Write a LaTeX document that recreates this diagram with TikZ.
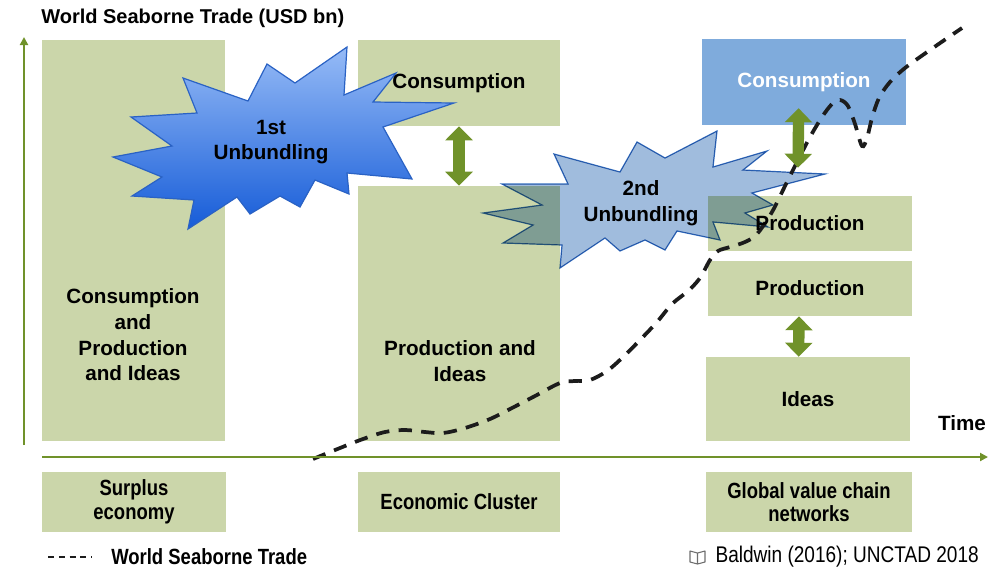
\documentclass[tikz,border=0pt]{standalone}
\usepackage{fontspec}
\setmainfont{Liberation Sans}
\newfontfamily\narrowfont{Liberation Sans}[FakeStretch=0.84]
\usetikzlibrary{arrows.meta,fit}

\definecolor{stagegreen}{RGB}{203,214,170}
\definecolor{stageblue}{RGB}{127,171,220}
\definecolor{axisgreen}{RGB}{112,146,42}
\definecolor{burstlight}{RGB}{150,187,246}
\definecolor{burstdark}{RGB}{22,92,216}
\definecolor{burstedge}{RGB}{42,98,196}
\definecolor{burstpale}{RGB}{160,188,221}
\definecolor{burstpaleedge}{RGB}{52,110,190}
\definecolor{tradeblack}{RGB}{28,28,28}
\definecolor{bookgray}{RGB}{110,110,110}

\pgfdeclarelayer{boxes}
\pgfdeclarelayer{bursts}
\pgfsetlayers{boxes,bursts,main}

\tikzset{
  stage/.style={fill=stagegreen, inner sep=0pt},
  lbl/.style={font=\bfseries\fontsize{15.5}{19.3}\selectfont, align=center, inner sep=0.75pt},
  small/.style={font=\narrowfont\bfseries\fontsize{16.5}{17.6}\selectfont, align=center, inner sep=0.75pt},
  twoway/.style={axisgreen, line width=8.5pt, {Triangle[width=20pt,length=10.5pt]}-{Triangle[width=20pt,length=10.5pt]}},
  axisline/.style={axisgreen, line width=1.5pt, -{Triangle[width=6pt,length=6pt]}},
  trade/.style={tradeblack, line width=2.8pt, dash pattern=on 10pt off 7pt}
}

\begin{document}
\begin{tikzpicture}[x=0.75pt,y=0.75pt,yscale=-1,xscale=1]
\useasboundingbox (0,0) rectangle (998,569);

%Stage boxes
\begin{pgfonlayer}{boxes}
\node [stage, fit={(42,40) (225,441)}] (all1) {};
\node [stage, fit={(358,40) (560,126)}] (cons2) {};
\node [stage, fit={(358,186) (560,441)}] (prod2) {};
\node [stage, fill=stageblue, fit={(702,39) (906,125)}] (cons3) {};
\node [stage, fit={(708,196) (912,251)}] (prod3a) {};
\node [stage, fit={(708,261) (912,316)}] (prod3b) {};
\node [stage, fit={(706,357) (910,441)}] (ideas3) {};
%Era boxes below the time axis
\node [stage, fit={(42,472) (226,532)}] (era1) {};
\node [stage, fit={(358,472) (560,532)}] (era2) {};
\node [stage, fit={(706,472) (912,532)}] (era3) {};
\end{pgfonlayer}

\begin{pgfonlayer}{bursts}
%Burst [1st]
\draw [burstedge, line width=0.9pt, top color=burstlight, bottom color=burstdark]  (113,157) -- (172,146) -- (131,117) -- (197,113) -- (183,78) -- (248,101) -- (267,64) -- (295,83) -- (347,47) -- (344,95) -- (396,73) -- (373,102) -- (454,103) -- (383,127) -- (412,179) -- (347,173) -- (349,194) -- (315,180) -- (300,207) -- (280,196) -- (250,214) -- (237,197) -- (188,229) -- (194,200) -- (132,196) -- (162,177) -- cycle ;
%Burst [2nd]
\begin{scope}[blend mode=multiply]
\draw [burstpaleedge, line width=0.9pt, fill=burstpale]  (483,213) -- (542,205) -- (502,184) -- (568,184) -- (554,154) -- (620,172) -- (637,142) -- (665,158) -- (717,131) -- (713,167) -- (767,151) -- (743,170) -- (825,174) -- (752,193) -- (773,205) -- (745,213) -- (768,227) -- (713,222) -- (720,240) -- (677,231) -- (665,250) -- (645,240) -- (620,251) -- (605,238) -- (560,268) -- (562,245) -- (503,243) -- (533,225) -- cycle ;
\end{scope}
%Curve Lines [trade]
\draw [trade] plot [smooth, tension=0.55] coordinates {(313,459) (340,448) (363,439) (385,432) (405,430) (425,432) (443,433) (465,428) (490,419) (512,408) (535,396) (560,383) (575,381) (590,380) (607,371) (622,358) (640,340) (657,322) (672,304) (688,291) (700,278) (710,260) (718,251) (730,247) (745,242) (757,234) (772,212) (785,186) (797,162) (810,137) (822,117) (832,104) (840,100) (848,106) (855,124) (862,146) (867,138) (872,118) (879,98) (890,82) (905,68) (930,50) (962,28)};
\end{pgfonlayer}

%Axes
\coordinate (ybot) at (24,445);
\coordinate (ytop) at (24,37);
\coordinate (xleft) at (42,457);
\coordinate (xright) at (988,457);
\draw [axisline] (ybot) -- (ytop);
\draw [axisline] (xleft) -- (xright);

%Double arrows
\draw [twoway] (cons2.south) -- (prod2.north);
\draw [twoway] ([xshift=-4pt,yshift=-12.75pt]cons3.south) -- ([xshift=-9pt,yshift=-21pt]prod3a.north);
\draw [twoway] ([xshift=-8.25pt]prod3b.south) -- ([xshift=-7pt]ideas3.north);

% Text Node
\draw (40,18) node [anchor=west, lbl, font=\bfseries\fontsize{15}{18}\selectfont] (title) {World Seaborne Trade (USD bn)};
% Text Node
\draw (133,335) node [lbl] (all1txt) {Consumption\\and\\Production\\and Ideas};
% Text Node
\draw (cons2) node [lbl] (cons2txt) {Consumption};
% Text Node
\draw (460,361) node [lbl] (prod2txt) {Production and\\Ideas};
% Text Node
\draw (cons3) node [lbl, text=white] (cons3txt) {Consumption};
% Text Node
\draw (prod3a) node [lbl] (prod3atxt) {Production};
% Text Node
\draw (prod3b) node [lbl] (prod3btxt) {Production};
% Text Node
\draw (ideas3) node [lbl] (ideas3txt) {Ideas};
% Text Node
\draw (271,142) node [lbl] (first) {1st\\Unbundling};
% Text Node
\draw (641,203) node [lbl] (second) {2nd\\Unbundling};
% Text Node
\draw (962,423) node [lbl] (time) {Time};
% Text Node
\draw (era1) node [small] (era1txt) {Surplus\\economy};
% Text Node
\draw (era2) node [small] (era2txt) {Economic Cluster};
% Text Node
\draw (era3) node [small] (era3txt) {Global value chain\\networks};

%Legend
\coordinate (lgA) at (48,557);
\coordinate (lgB) at (92,557);
\draw [trade, line width=2pt, dash pattern=on 4.5pt off 3.6pt] (lgA) -- (lgB);
\draw (110,557) node [anchor=west, small] (lgtxt) {World Seaborne Trade};

%Source
\draw [bookgray, line width=0.8pt, line join=round] (690,551) -- (697.5,553) -- (705,551) -- (705,562) -- (697.5,564) -- (690,562) -- cycle (697.5,553) -- (697.5,564) ;
\draw (980,557) node [anchor=east, small, font=\narrowfont\fontsize{17}{17.6}\selectfont] (source) {Baldwin (2016); UNCTAD 2018};

\end{tikzpicture}
\end{document}
